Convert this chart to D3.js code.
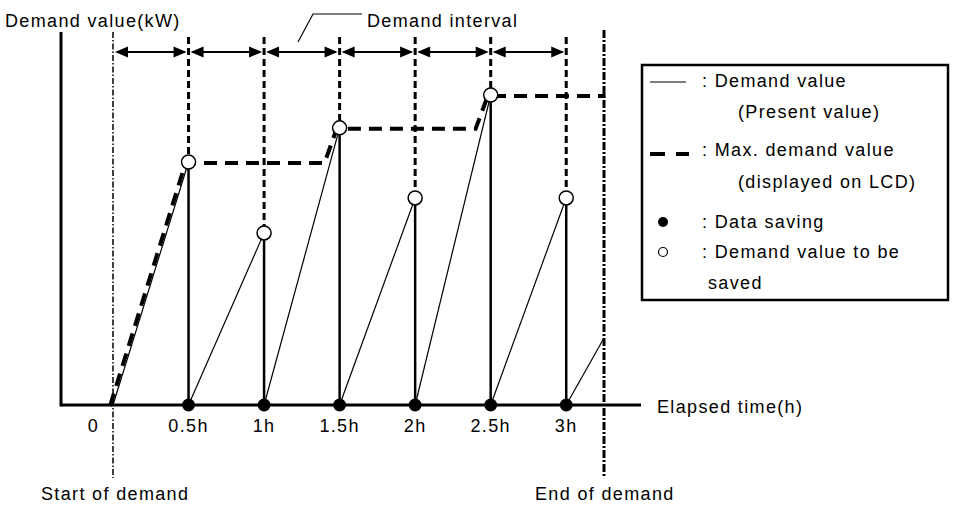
<!DOCTYPE html>
<html>
<head>
<meta charset="utf-8">
<script src="https://cdn.jsdelivr.net/npm/d3@7"></script>
<style>
  body { margin: 0; background: #fff; }
  svg text { font-family: "Liberation Sans", Arial, sans-serif; font-size: 18px; letter-spacing: 1.35px; fill: #000; }
</style>
</head>
<body>
<div id="chart"></div>
<script>
// Data (demand in arbitrary kW units, time in hours)
const intervalEnds = [0.5, 1, 1.5, 2, 2.5, 3]
const tickLabels = ["0", "0.5h", "1h", "1.5h", "2h", "2.5h", "3h"]
const tickTimes = [-0.13, 0.5, 1, 1.5, 2, 2.5, 3]
const savedValues = [78.4, 55.5, 89.4, 66.8, 100, 66.8]
const endTime = 3.25
const endValue = 21.6
const maxTimes = [0, 0.5, 1.42, 1.5, 2.42, 2.5, 3.28]
const maxValues = [0, 78.4, 78.4, 89.4, 89.4, 100, 100]

const width = 953, height = 505

const svg = d3.select("#chart").append("svg")
   .attr("width", width)
   .attr("height", height)

const x = d3.scaleLinear().domain([0, endTime]).range([113, 604])
const y = d3.scaleLinear().domain([0, 100]).range([405, 95])

const axisX0 = 61, axisX1 = 641, axisTop = 32

// Start / end of demand markers
svg.append("line")
   .attr("x1", x(0)).attr("x2", x(0))
   .attr("y1", 32).attr("y2", 478)
   .attr("stroke", "#000").attr("stroke-width", 1.5)
   .attr("stroke-dasharray", "6,2,1.5,2")
svg.append("line")
   .attr("x1", x(endTime)).attr("x2", x(endTime))
   .attr("y1", 30).attr("y2", 478)
   .attr("stroke", "#000").attr("stroke-width", 3)
   .attr("stroke-dasharray", "8,2,2,2")

// Interval lines: dashed above the saved value, solid below
svg.selectAll("line.intervalTop").data(intervalEnds).enter().append("line")
   .attr("class", "intervalTop")
   .attr("x1", d => x(d)).attr("x2", d => x(d))
   .attr("y1", 37).attr("y2", (d, i) => y(savedValues[i]))
   .attr("stroke", "#000").attr("stroke-width", 3)
   .attr("stroke-dasharray", "7,4")
svg.selectAll("line.intervalBottom").data(intervalEnds).enter().append("line")
   .attr("class", "intervalBottom")
   .attr("x1", d => x(d)).attr("x2", d => x(d))
   .attr("y1", (d, i) => y(savedValues[i])).attr("y2", y(0))
   .attr("stroke", "#000").attr("stroke-width", 2.5)

// Double arrows marking each demand interval
const arrowY = 52
const starts = [0].concat(intervalEnds.slice(0, -1))
const arrows = svg.selectAll("g.arrow").data(starts).enter().append("g").attr("class", "arrow")
arrows.append("line")
   .attr("x1", d => x(d) + 4).attr("x2", (d, i) => x(intervalEnds[i]) - 4)
   .attr("y1", arrowY).attr("y2", arrowY)
   .attr("stroke", "#000").attr("stroke-width", 1.8)
arrows.append("path")
   .attr("d", d => { let a = x(d) + 2; return `M${a},${arrowY}L${a + 13},${arrowY - 5.5}L${a + 13},${arrowY + 5.5}Z` })
arrows.append("path")
   .attr("d", (d, i) => { let b = x(intervalEnds[i]) - 2; return `M${b},${arrowY}L${b - 13},${arrowY - 5.5}L${b - 13},${arrowY + 5.5}Z` })

// Callout for demand interval
svg.append("path")
   .attr("d", "M362,14L313,14L298,42")
   .attr("fill", "none").attr("stroke", "#000").attr("stroke-width", 1.2)
svg.append("text").attr("x", 367).attr("y", 27).text("Demand interval")

// Present demand value (sawtooth)
const presentPts = []
intervalEnds.forEach((t, i) => {
   presentPts.push([t - 0.5, 0], [t, savedValues[i]])
})
const segs = d3.range(intervalEnds.length).map(i => [presentPts[2 * i], presentPts[2 * i + 1]])
segs.push([[intervalEnds[intervalEnds.length - 1], 0], [endTime, endValue]])
const line = d3.line().x(d => x(d[0])).y(d => y(d[1]))
svg.selectAll("path.present").data(segs).enter().append("path")
   .attr("class", "present")
   .attr("d", line)
   .attr("fill", "none").attr("stroke", "#000").attr("stroke-width", 1.2)

// Max demand value
svg.append("path")
   .datum(maxTimes.map((t, i) => [t, maxValues[i]]))
   .attr("d", line)
   .attr("transform", "translate(-3,1)")
   .attr("fill", "none").attr("stroke", "#000").attr("stroke-width", 4)
   .attr("stroke-dasharray", "13,8")

// Axes
svg.append("line")
   .attr("x1", axisX0).attr("x2", axisX0)
   .attr("y1", axisTop).attr("y2", y(0) + 1.5)
   .attr("stroke", "#000").attr("stroke-width", 3)
svg.append("line")
   .attr("x1", axisX0).attr("x2", axisX1)
   .attr("y1", y(0)).attr("y2", y(0))
   .attr("stroke", "#000").attr("stroke-width", 3)

// Saved data points
svg.selectAll("circle.saving").data(intervalEnds).enter().append("circle")
   .attr("class", "saving")
   .attr("cx", d => x(d)).attr("cy", y(0)).attr("r", 6.5)
svg.selectAll("circle.saved").data(intervalEnds).enter().append("circle")
   .attr("class", "saved")
   .attr("cx", d => x(d)).attr("cy", (d, i) => y(savedValues[i])).attr("r", 7)
   .attr("fill", "#fff").attr("stroke", "#000").attr("stroke-width", 1.5)

// Tick labels
svg.selectAll("text.tick").data(tickLabels).enter().append("text")
   .attr("class", "tick")
   .attr("x", (d, i) => x(tickTimes[i]))
   .attr("y", 432)
   .attr("text-anchor", "middle")
   .text(d => d)

// Titles
svg.append("text").attr("x", 5).attr("y", 27).text("Demand value(kW)")
svg.append("text").attr("x", 657).attr("y", 413).text("Elapsed time(h)")
svg.append("text").attr("x", 41).attr("y", 500).text("Start of demand")
svg.append("text").attr("x", 535).attr("y", 500).text("End of demand")

// Legend
const lg = svg.append("g")
lg.append("rect")
   .attr("x", 642).attr("y", 65).attr("width", 306).attr("height", 235)
   .attr("fill", "#fff").attr("stroke", "#000").attr("stroke-width", 2.5)
lg.append("line").attr("x1", 650).attr("x2", 686).attr("y1", 82).attr("y2", 82)
   .attr("stroke", "#000").attr("stroke-width", 1.2)
lg.append("line").attr("x1", 650).attr("x2", 689).attr("y1", 154).attr("y2", 154)
   .attr("stroke", "#000").attr("stroke-width", 4).attr("stroke-dasharray", "15,11")
lg.append("circle").attr("cx", 663).attr("cy", 222).attr("r", 5)
lg.append("circle").attr("cx", 663).attr("cy", 252).attr("r", 4.5)
   .attr("fill", "#fff").attr("stroke", "#000").attr("stroke-width", 1.2)

const legendLines = [": Demand value", "(Present value)", ": Max. demand value", "(displayed on LCD)", ": Data saving", ": Demand value to be", "saved"]
const legendX = [702, 738, 702, 738, 702, 702, 708]
const legendY = [87, 118, 156, 188, 228, 258, 289]
lg.selectAll("text").data(legendLines).enter().append("text")
   .attr("x", (d, i) => legendX[i])
   .attr("y", (d, i) => legendY[i])
   .text(d => d)
</script>
</body>
</html>
